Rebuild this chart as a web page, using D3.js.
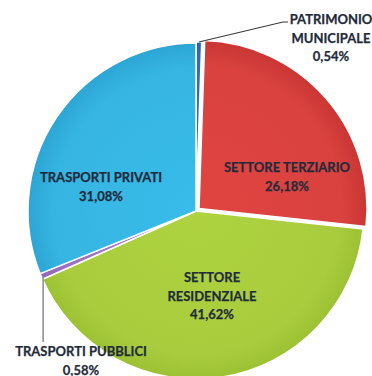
<!DOCTYPE html>
<html>
<head>
<meta charset="utf-8">
<script src="https://cdn.jsdelivr.net/npm/d3@7"></script>
<style>
  body { margin: 0; background: #fff; }
  svg text { font-family: Lato, "Open Sans", sans-serif; font-weight: 700; fill: #1f2b3b; stroke: #1f2b3b; stroke-width: 0.25px; }
</style>
</head>
<body>
<svg id="chart" width="372" height="376"></svg>
<script>
////////// dati
const categorie = ['PATRIMONIO MUNICIPALE', 'SETTORE TERZIARIO', 'SETTORE RESIDENZIALE', 'TRASPORTI PUBBLICI', 'TRASPORTI PRIVATI'];
const valori = [0.54, 26.18, 41.62, 0.58, 31.08];
const etichette = ['0,54%', '26,18%', '41,62%', '0,58%', '31,08%'];
const colori = ['#3b67bd', '#d9423f', '#a8cc3d', '#9b70c4', '#36b5e2'];
const coloriBordo = ['#3360b3', '#c93634', '#9cc132', '#9066bb', '#2ca6d4'];

const cx = 196, cy = 211, r = 168;

const svg = d3.select('#chart');
const defs = svg.append('defs');

// il gradiente usa le coordinate locali del gruppo (centro in 0,0)
colori.forEach((c, i) => {
  const g = defs.append('radialGradient')
    .attr('id', 'grad' + i)
    .attr('gradientUnits', 'userSpaceOnUse')
    .attr('cx', 0).attr('cy', 0).attr('r', r);
  g.append('stop').attr('offset', '0%').attr('stop-color', d3.color(c).brighter(0.1));
  g.append('stop').attr('offset', '85%').attr('stop-color', c);
  g.append('stop').attr('offset', '100%').attr('stop-color', coloriBordo[i]);
});

const pie = d3.pie().sort(null).value(d => d);
const arcs = pie(valori);
const arc = d3.arc().innerRadius(0).outerRadius(r);

// spostamento della fetta rossa
const esplodi = [1, 4, 0, 0, 0];

const g = svg.append('g').attr('transform', `translate(${cx},${cy})`);

g.selectAll('path.fetta')
  .data(arcs)
  .join('path')
  .attr('class', 'fetta')
  .attr('d', arc)
  .attr('fill', (d, i) => `url(#grad${i})`)
  .attr('stroke', '#fff')
  .attr('stroke-width', 1.5)
  .attr('stroke-linejoin', 'round')
  .attr('transform', (d, i) => {
    const a = (d.startAngle + d.endAngle) / 2;
    return `translate(${Math.sin(a) * esplodi[i]},${-Math.cos(a) * esplodi[i]})`;
  });

////////// etichette
function scrivi(x, y, righe, anchor) {
  const t = svg.append('text')
    .attr('x', x).attr('y', y)
    .attr('text-anchor', anchor || 'middle')
    .style('font-size', '13px');
  righe.forEach((riga, k) => {
    t.append('tspan').attr('x', x).attr('dy', k === 0 ? 0 : 18.5).text(riga);
  });
}

scrivi(101, 182, ['TRASPORTI PRIVATI', etichette[4]]);
scrivi(287, 172, ['SETTORE TERZIARIO', etichette[1]]);
scrivi(212, 282, ['SETTORE', 'RESIDENZIALE', etichette[2]]);

////////// etichette esterne con linee guida
const aPat = (arcs[0].startAngle + arcs[0].endAngle) / 2;
const pPat = [cx + Math.sin(aPat) * (r + 1), cy - Math.cos(aPat) * (r + 1)];
svg.append('polyline')
  .attr('points', [pPat, [283, 22], [288, 22]].map(p => p.join(',')).join(' '))
  .attr('fill', 'none').attr('stroke', '#3a3a3a').attr('stroke-width', 1.2);
scrivi(331, 24, ['PATRIMONIO', 'MUNICIPALE', etichette[0]]);

const aPub = (arcs[3].startAngle + arcs[3].endAngle) / 2;
const pPub = [cx + Math.sin(aPub) * (r - 2), cy - Math.cos(aPub) * (r - 2)];
svg.append('line')
  .attr('x1', pPub[0]).attr('y1', pPub[1])
  .attr('x2', pPub[0]).attr('y2', 342)
  .attr('stroke', '#8a8a8a').attr('stroke-width', 1.5);
scrivi(81, 356, ['TRASPORTI PUBBLICI', etichette[3]]);
</script>
</body>
</html>
